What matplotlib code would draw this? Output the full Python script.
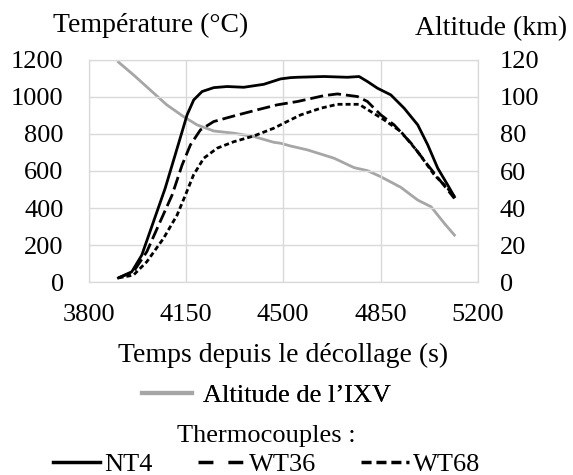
import matplotlib
matplotlib.use("Agg")
from matplotlib import pyplot as plt
from matplotlib.lines import Line2D

plt.rcParams['font.family'] = ['Liberation Serif', 'DejaVu Serif']

# temperature histories (time in s, temperature in degC)
nt4_t = [3907, 3955, 3991, 4033, 4075, 4111, 4136, 4154, 4178, 4208, 4250,
         4298, 4358, 4430, 4490, 4526, 4551, 4647, 4731, 4773, 4803, 4839,
         4887, 4935, 4984, 5020, 5056, 5092, 5116]
nt4_T = [23, 56, 146, 326, 506, 686, 812, 903, 984, 1029, 1050,
         1056, 1052, 1068, 1097, 1104, 1106, 1110, 1106, 1110, 1083, 1047,
         1011, 939, 849, 741, 615, 524, 461]

wt36_t = [3907, 3961, 4009, 4057, 4100, 4136, 4166, 4202, 4250, 4322, 4406,
          4478, 4526, 4551, 4647, 4695, 4767, 4803, 4851, 4899, 4960, 5020,
          5068, 5116]
wt36_T = [23, 56, 164, 326, 470, 632, 741, 822, 867, 897, 930,
          957, 969, 975, 1007, 1016, 1002, 975, 903, 849, 750, 632,
          542, 452]

wt68_t = [3907, 3961, 4009, 4069, 4118, 4148, 4177, 4214, 4262, 4322, 4394,
          4466, 4526, 4563, 4635, 4695, 4773, 4815, 4863, 4923, 4984, 5044,
          5092, 5116]
wt68_T = [23, 38, 110, 236, 362, 470, 578, 669, 723, 758, 789,
          831, 876, 903, 939, 960, 960, 921, 876, 813, 704, 578,
          506, 461]

# IXV altitude (km)
alt_t = [3907, 3961, 4021, 4081, 4141, 4190, 4250, 4322, 4394, 4466, 4490,
         4526, 4587, 4683, 4755, 4803, 4851, 4923, 4984, 5032, 5080, 5116]
alt_km = [118.8, 111.9, 103.8, 95.7, 89.4, 84.9, 81.6, 80.4, 78.6, 75.5, 75,
          73.5, 71.4, 66.9, 61.8, 60.2, 56.9, 51.2, 44.3, 40.7, 31.7, 25.4]

x_ticks = [3800, 4150, 4500, 4850, 5200]
grid_col = '#d9d9d9'
alt_col = '#a6a6a6'
fs = 19      # tick labels and legend entries
fs_lab = 20  # axis titles

fig = plt.figure(figsize=(5.73, 4.75), dpi=100)
ax = fig.add_axes([0.1548, 0.406, 0.679, 0.468])
ax2 = ax.twinx()

ax2.plot(alt_t, alt_km, color=alt_col, lw=2, zorder=1)
ax.plot(nt4_t, nt4_T, color='black', lw=2, zorder=3)
ax.plot(wt36_t, wt36_T, color='black', lw=2, dashes=(4.7, 1.8), zorder=3)
ax.plot(wt68_t, wt68_T, color='black', lw=2, dashes=(1.8, 1.1), zorder=3)
ax.set_zorder(ax2.get_zorder() + 1)
ax.patch.set_visible(False)

ax.set_xlim(3800, 5200)
ax.set_ylim(0, 1200)
ax2.set_ylim(0, 120)
ax.set_xticks(x_ticks)
ax.set_yticks(range(0, 1201, 200))
ax2.set_yticks(range(0, 121, 20))

for a in (ax, ax2):
    for s in a.spines.values():
        s.set_color(grid_col)
    a.tick_params(length=0, labelsize=fs)
ax.tick_params(axis='y', pad=18)
ax2.tick_params(axis='y', pad=16)
ax.tick_params(axis='x', pad=16)
ax.grid(True, color=grid_col, lw=1)
ax.set_axisbelow(True)

ax.set_xlabel('Temps depuis le décollage (s)', fontsize=fs_lab, labelpad=12)
fig.text(0.262, 0.947, 'Température (°C)', fontsize=fs_lab, ha='center', va='center')
fig.text(0.857, 0.94, 'Altitude (km)', fontsize=fs_lab, ha='center', va='center')

h_alt = [Line2D([], [], color=alt_col, lw=3)]
leg1 = fig.legend(h_alt, ["Altitude de l\u2019IXV"], loc='center',
                  bbox_to_anchor=(0.465, 0.168), frameon=False, fontsize=fs,
                  handlelength=1.9, handletextpad=0.4, borderpad=0)
h_tc = [Line2D([], [], color='black', lw=2.5),
        Line2D([], [], color='black', lw=2.5, dashes=(4.3, 4.3)),
        Line2D([], [], color='black', lw=2.5, dashes=(2.9, 1.4))]
leg2 = fig.legend(h_tc, ['NT4', 'WT36', 'WT68'], loc='lower center', ncol=3,
                  bbox_to_anchor=(0.465, -0.03), frameon=False, fontsize=fs,
                  title='Thermocouples :', title_fontsize=fs,
                  handlelength=1.8, handletextpad=0.15, columnspacing=1.7,
                  borderpad=0, labelspacing=0.2)
fig.add_artist(leg1)

fig.savefig('out.png', dpi=100)
